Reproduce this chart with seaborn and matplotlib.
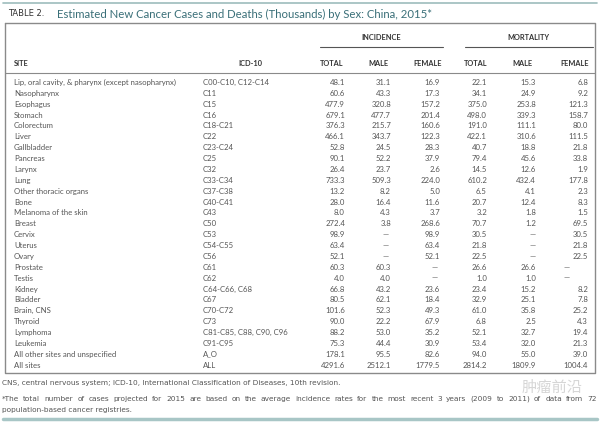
import numpy as np
import seaborn as sns
import matplotlib.pyplot as plt

sites = [
    "Lip, oral cavity, & pharynx (except nasopharynx)", "Nasopharynx", "Esophagus",
    "Stomach", "Colorectum", "Liver", "Gallbladder", "Pancreas", "Larynx", "Lung",
    "Other thoracic organs", "Bone", "Melanoma of the skin", "Breast", "Cervix",
    "Uterus", "Ovary", "Prostate", "Testis", "Kidney", "Bladder", "Brain, CNS",
    "Thyroid", "Lymphoma", "Leukemia", "All other sites and unspecified", "All sites",
]
icd10 = [
    "C00-C10, C12-C14", "C11", "C15", "C16", "C18-C21", "C22", "C23-C24", "C25",
    "C32", "C33-C34", "C37-C38", "C40-C41", "C43", "C50", "C53", "C54-C55", "C56",
    "C61", "C62", "C64-C66, C68", "C67", "C70-C72", "C73", "C81-C85, C88, C90, C96",
    "C91-C95", "A_O", "ALL",
]
inc_total = [48.1, 60.6, 477.9, 679.1, 376.3, 466.1, 52.8, 90.1, 26.4, 733.3, 13.2, 28.0,
             8.0, 272.4, 98.9, 63.4, 52.1, 60.3, 4.0, 66.8, 80.5, 101.6, 90.0, 88.2, 75.3,
             178.1, 4291.6]
inc_male = [31.1, 43.3, 320.8, 477.7, 215.7, 343.7, 24.5, 52.2, 23.7, 509.3, 8.2, 16.4,
            4.3, 3.8, None, None, None, 60.3, 4.0, 43.2, 62.1, 52.3, 22.2, 53.0, 44.4,
            95.5, 2512.1]
inc_female = [16.9, 17.3, 157.2, 201.4, 160.6, 122.3, 28.3, 37.9, 2.6, 224.0, 5.0, 11.6,
              3.7, 268.6, 98.9, 63.4, 52.1, None, None, 23.6, 18.4, 49.3, 67.9, 35.2, 30.9,
              82.6, 1779.5]
mort_total = [22.1, 34.1, 375.0, 498.0, 191.0, 422.1, 40.7, 79.4, 14.5, 610.2, 6.5, 20.7,
              3.2, 70.7, 30.5, 21.8, 22.5, 26.6, 1.0, 23.4, 32.9, 61.0, 6.8, 52.1, 53.4,
              94.0, 2814.2]
mort_male = [15.3, 24.9, 253.8, 339.3, 111.1, 310.6, 18.8, 45.6, 12.6, 432.4, 4.1, 12.4,
             1.8, 1.2, None, None, None, 26.6, 1.0, 15.2, 25.1, 35.8, 2.5, 32.7, 32.0,
             55.0, 1809.9]
mort_female = [6.8, 9.2, 121.3, 158.7, 80.0, 111.5, 21.8, 33.8, 1.9, 177.8, 2.3, 8.3,
               1.5, 69.5, 30.5, 21.8, 22.5, None, None, 8.2, 7.8, 25.2, 4.3, 19.4, 21.3,
               39.0, 1004.4]

col_heads = ["TOTAL", "MALE", "FEMALE", "TOTAL", "MALE", "FEMALE"]
group_heads = ["INCIDENCE", "MORTALITY"]
title_tag = "TABLE 2."
title = "Estimated New Cancer Cases and Deaths (Thousands) by Sex: China, 2015*"
note1 = "CNS, central nervous system; ICD-10, International Classification of Diseases, 10th revision."
note2a = ("*The total number of cases projected for 2015 are based on the average incidence "
          "rates for the most recent 3 years (2009 to 2011) of data from 72")
note2b = "population-based cancer registries."
watermark = "肿瘤前沿"

sns.set_theme(style="white")
plt.rcParams['font.family'] = ['Lato', 'Noto Sans CJK SC', 'DejaVu Sans']

fig = plt.figure(figsize=(6, 4.22), dpi=100)
ax = fig.add_axes([0, 0, 1, 1])
ax.set_xlim(0, 600)
ax.set_ylim(422, 0)
ax.axis("off")

txt = "#555555"
head = "#333333"
teal = "#3a6f78"
frame = "#8a8a8a"

# top and bottom rules
ax.plot([3, 597], [3, 3], color="#9dbcbc", lw=1.2)
ax.plot([3, 597], [419, 419], color="#a8c6c6", lw=2.5)

# title
ax.text(8, 14, title_tag, fontsize=6.0, color=head, va="center", family="DejaVu Sans")
ax.text(57, 14, title, fontsize=8.2, color=teal, va="center")

# frame
ax.plot([5, 595, 595, 5, 5], [23, 23, 373, 373, 23], color=frame, lw=1.0)
ax.plot([5, 595], [73, 73], color=frame, lw=0.8)

col_right = [345, 391, 440, 487, 536, 588]
head_center = [332, 378, 428, 476, 522, 575]
dash_shift = [2, 2, 2, 2, 0, 18]
cols = [inc_total, inc_male, inc_female, mort_total, mort_male, mort_female]

# group headers and underlines
ax.text(381, 38, group_heads[0], fontsize=5.3, color=head, ha="center", va="center", weight="bold")
ax.text(528, 38, group_heads[1], fontsize=5.3, color=head, ha="center", va="center", weight="bold")
ax.plot([320, 443], [47, 47], color="#555555", lw=0.8)
ax.plot([465, 593], [47, 47], color="#555555", lw=0.8)

ax.text(14, 63, "SITE", fontsize=5.3, color=head, va="center", weight="bold")
ax.text(238, 63, "ICD-10", fontsize=5.3, color=head, va="center", weight="bold")
for h, xc in zip(col_heads, head_center):
    ax.text(xc, 63, h, fontsize=5.3, color=head, ha="center", va="center", weight="bold")

# rows
y0, dy = 82.5, 10.87
for i, (s, c) in enumerate(zip(sites, icd10)):
    y = y0 + i * dy
    ax.text(14, y, s, fontsize=5.6, color=txt, va="center")
    ax.text(203, y, c, fontsize=5.6, color=txt, va="center")
    for vals, xr, sh in zip(cols, col_right, dash_shift):
        v = vals[i]
        if v is None:
            ax.text(xr - sh, y, "\u2014", fontsize=5.6, color=txt, ha="right", va="center")
        else:
            ax.text(xr, y, f"{v:.1f}", fontsize=5.6, color=txt, ha="right", va="center")

# footnotes
ax.text(2, 383, note1, fontsize=5.35, color=txt, va="center", family="DejaVu Sans")

fig.canvas.draw()
r = fig.canvas.get_renderer()
words = note2a.split()
objs = [ax.text(0, 399, w, fontsize=5.35, color=txt, va="center", family="DejaVu Sans") for w in words]
widths = [o.get_window_extent(r).width for o in objs]
gap = (597 - 2 - sum(widths)) / (len(words) - 1)
x = 2
for o, w in zip(objs, widths):
    o.set_x(x)
    x += w + gap
ax.text(2, 410, note2b, fontsize=5.35, color=txt, va="center", family="DejaVu Sans")

ax.text(522, 387, watermark, fontsize=11, color="#cccccc", va="center", alpha=0.8,
        family=["Noto Sans CJK SC"])

fig.savefig("out.png", dpi=100)
